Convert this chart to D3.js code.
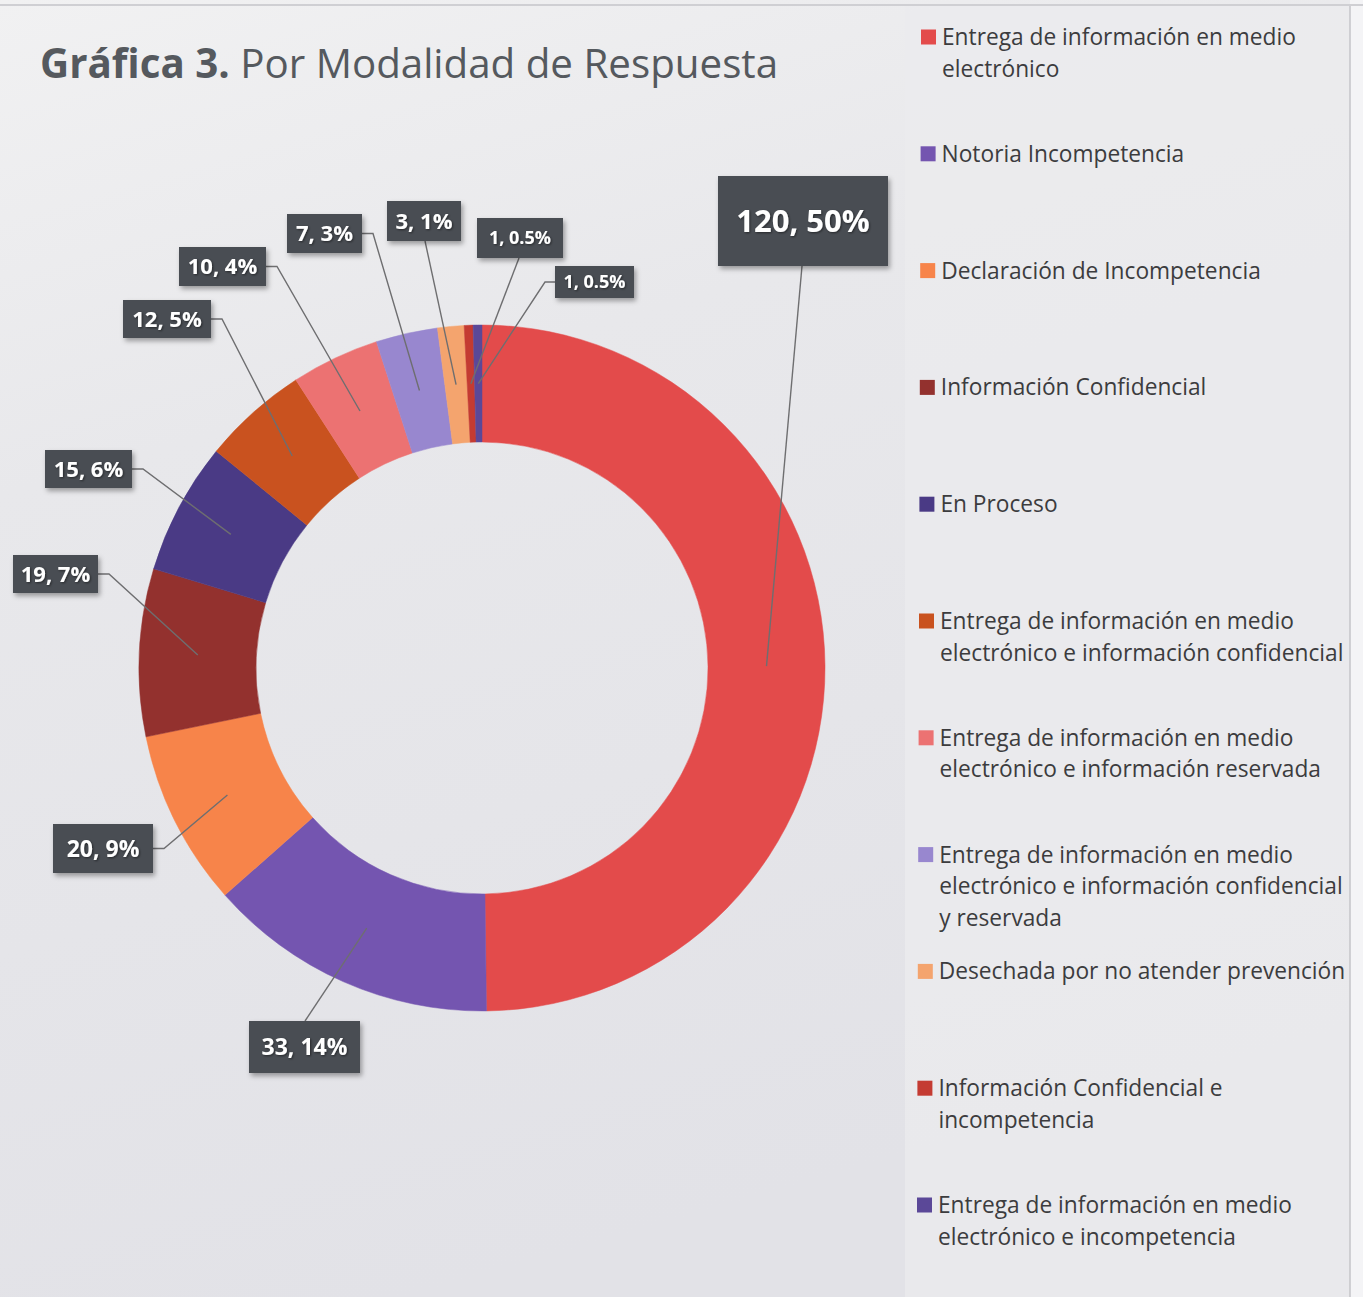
<!DOCTYPE html>
<html><head><meta charset="utf-8">
<script src="https://cdn.jsdelivr.net/npm/d3@7"></script>
<style>html,body{margin:0;padding:0;background:#e7e7eb;overflow:hidden}</style>
</head><body><svg id="chart" width="1363" height="1297"></svg>
<script>
// ---- DATA ----
const categories = [
  "Entrega de información en medio electrónico",
  "Notoria Incompetencia",
  "Declaración de Incompetencia",
  "Información Confidencial",
  "En Proceso",
  "Entrega de información en medio electrónico e información confidencial",
  "Entrega de información en medio electrónico e información reservada",
  "Entrega de información en medio electrónico e información confidencial y reservada",
  "Desechada por no atender prevención",
  "Información Confidencial e incompetencia",
  "Entrega de información en medio electrónico e incompetencia"
];
const values = [120, 33, 20, 19, 15, 12, 10, 7, 3, 1, 1];
const percentLabels = ["50%", "14%", "9%", "7%", "6%", "5%", "4%", "3%", "1%", "0.5%", "0.5%"];
const colors = ["#e34b4b", "#7455b0", "#f7844a", "#93312e", "#4a3a85", "#c9521f",
                "#ec7272", "#9887cf", "#f4a46e", "#c43b32", "#5b4898"];
const titleBold = "Gráfica 3.";
const titleRest = " Por Modalidad de Respuesta";

// ---- LAYOUT ----
const W = 1363, H = 1297;
const cx = 482, cy = 668, rOuter = 343, rInner = 226;
const labelBoxes = [
  {x: 718, y: 176, w: 170, h: 90, fs: 31, side: "bottom", ax: 802},
  {x: 249, y: 1021, w: 111, h: 52, fs: 23, side: "top", ax: 305},
  {x: 53, y: 824, w: 100, h: 49, fs: 23, side: "right"},
  {x: 13, y: 555, w: 85, h: 38, fs: 22, side: "right"},
  {x: 45, y: 450, w: 87, h: 38, fs: 22, side: "right"},
  {x: 123, y: 300, w: 88, h: 38, fs: 22, side: "right"},
  {x: 179, y: 247, w: 87, h: 39, fs: 22, side: "right"},
  {x: 287, y: 214, w: 75, h: 39, fs: 22, side: "right"},
  {x: 387, y: 201, w: 74, h: 40, fs: 22, side: "bottom", ax: 425},
  {x: 477, y: 218, w: 86, h: 40, fs: 18, side: "bottom", ax: 519},
  {x: 555, y: 266, w: 79, h: 32, fs: 18, side: "left"}
];

const svg = d3.select("#chart");
const defs = svg.append("defs");
const f = defs.append("filter").attr("id", "sh").attr("x", "-20%").attr("y", "-20%").attr("width", "150%").attr("height", "160%");
f.append("feDropShadow").attr("dx", 2).attr("dy", 3).attr("stdDeviation", 2.5).attr("flood-color", "#000").attr("flood-opacity", 0.35);
const tf = defs.append("filter").attr("id", "tsh");
tf.append("feDropShadow").attr("dx", 1).attr("dy", 1).attr("stdDeviation", 0.8).attr("flood-color", "#000").attr("flood-opacity", 0.5);
const lg = defs.append("linearGradient").attr("id", "bg").attr("x1", 0).attr("y1", 0).attr("x2", 0.3).attr("y2", 1);
lg.append("stop").attr("offset", 0).attr("stop-color", "#f1f1f2");
lg.append("stop").attr("offset", 0.35).attr("stop-color", "#e8e8eb");
lg.append("stop").attr("offset", 1).attr("stop-color", "#e2e2e7");

// background
svg.append("rect").attr("width", W).attr("height", H).attr("fill", "url(#bg)");
svg.append("rect").attr("x", 905).attr("y", 6).attr("width", 445).attr("height", H).attr("fill", "#ebebee").attr("opacity", 0.8);
svg.append("rect").attr("x", 1350).attr("y", 0).attr("width", W - 1350).attr("height", H).attr("fill", "#f4f4f6");
svg.append("line").attr("x1", 1350).attr("x2", 1350).attr("y1", 6).attr("y2", H).attr("stroke", "#c4c4c8").attr("stroke-width", 1.5);
svg.append("line").attr("x1", 0).attr("x2", W).attr("y1", 5).attr("y2", 5).attr("stroke", "#cfcfd3").attr("stroke-width", 2);

// helper: measure
const meas = svg.append("text").attr("x", -1000).attr("y", -1000);
function measure(txt, size, family, weight) {
  meas.attr("font-family", family).attr("font-size", size).attr("font-weight", weight || "normal").text(txt);
  return meas.node().getComputedTextLength();
}

// ---- TITLE ----
const titleFont = "'Open Sans', sans-serif";
const tw = measure(titleBold, 100, titleFont, "bold") + measure(titleRest, 100, titleFont, "normal");
const tSize = 100 * 728 / tw;
const title = svg.append("text").attr("x", 40).attr("y", 78).attr("font-family", titleFont)
  .attr("font-size", tSize).attr("fill", "#55595e");
title.append("tspan").attr("font-weight", "bold").text(titleBold);
title.append("tspan").attr("font-weight", "normal").text(titleRest);

// ---- DONUT ----
const pie = d3.pie().sort(null).value(d => d);
const arcs = pie(values);
const arc = d3.arc().innerRadius(rInner).outerRadius(rOuter);
const g = svg.append("g").attr("transform", `translate(${cx},${cy})`);
g.selectAll("path.slice").data(arcs).join("path").attr("class", "slice")
  .attr("d", arc).attr("fill", (d, i) => colors[i]).attr("stroke", (d, i) => colors[i]).attr("stroke-width", 0.5);

// leader lines
const lines = svg.append("g");
arcs.forEach((d, i) => {
  const b = labelBoxes[i];
  const c = arc.centroid(d);
  const end = [cx + c[0], cy + c[1]];
  let pts;
  if (b.side === "right") pts = [[b.x + b.w, b.y + b.h / 2], [b.x + b.w + 11, b.y + b.h / 2], end];
  else if (b.side === "left") pts = [[b.x, b.y + b.h / 2], [b.x - 10, b.y + b.h / 2], end];
  else if (b.side === "bottom") pts = [[b.ax, b.y + b.h], end];
  else pts = [[b.ax, b.y], end];
  lines.append("path").attr("d", d3.line()(pts)).attr("fill", "none")
    .attr("stroke", "#6e6e70").attr("stroke-width", 1.4);
});

// label boxes
const lab = svg.append("g");
values.forEach((v, i) => {
  const b = labelBoxes[i];
  lab.append("rect").attr("x", b.x).attr("y", b.y).attr("width", b.w).attr("height", b.h)
    .attr("fill", "#4a4d52").attr("filter", "url(#sh)");
  lab.append("text").attr("x", b.x + b.w / 2).attr("y", b.y + b.h / 2).attr("dy", "0.36em")
    .attr("text-anchor", "middle").attr("font-family", "'Open Sans', sans-serif")
    .attr("font-weight", "bold").attr("font-size", b.fs).attr("fill", "#ffffff")
    .attr("filter", "url(#tsh)")
    .text(`${v}, ${percentLabels[i]}`);
});

// ---- LEGEND ----
const legFont = "'Open Sans', sans-serif";
const lSize = 100 * 354 / measure("Entrega de información en medio", 100, legFont, "normal");
const maxW = 412;
function wrap(txt) {
  const words = txt.split(" ");
  const out = [];
  let cur = "";
  words.forEach(w => {
    const t = cur ? cur + " " + w : w;
    if (measure(t, lSize, legFont, "normal") > maxW && cur) { out.push(cur); cur = w; }
    else cur = t;
  });
  if (cur) out.push(cur);
  return out;
}
const legY0 = 37, legStep = 116.8, lineH = 31.6;
const leg = svg.append("g");
categories.forEach((cat, i) => {
  const y = legY0 + legStep * i;
  const shift = -4 * i / 10;
  leg.append("rect").attr("x", 921 + shift).attr("y", y - 7.5).attr("width", 15).attr("height", 15)
    .attr("fill", colors[i]);
  const t = leg.append("text").attr("font-family", legFont).attr("font-size", lSize).attr("fill", "#3c3c3e");
  wrap(cat).forEach((ln, k) => {
    t.append("tspan").attr("x", 942 + shift).attr("y", y + k * lineH).attr("dy", "0.35em").text(ln);
  });
});
meas.remove();
</script>
</body></html>
